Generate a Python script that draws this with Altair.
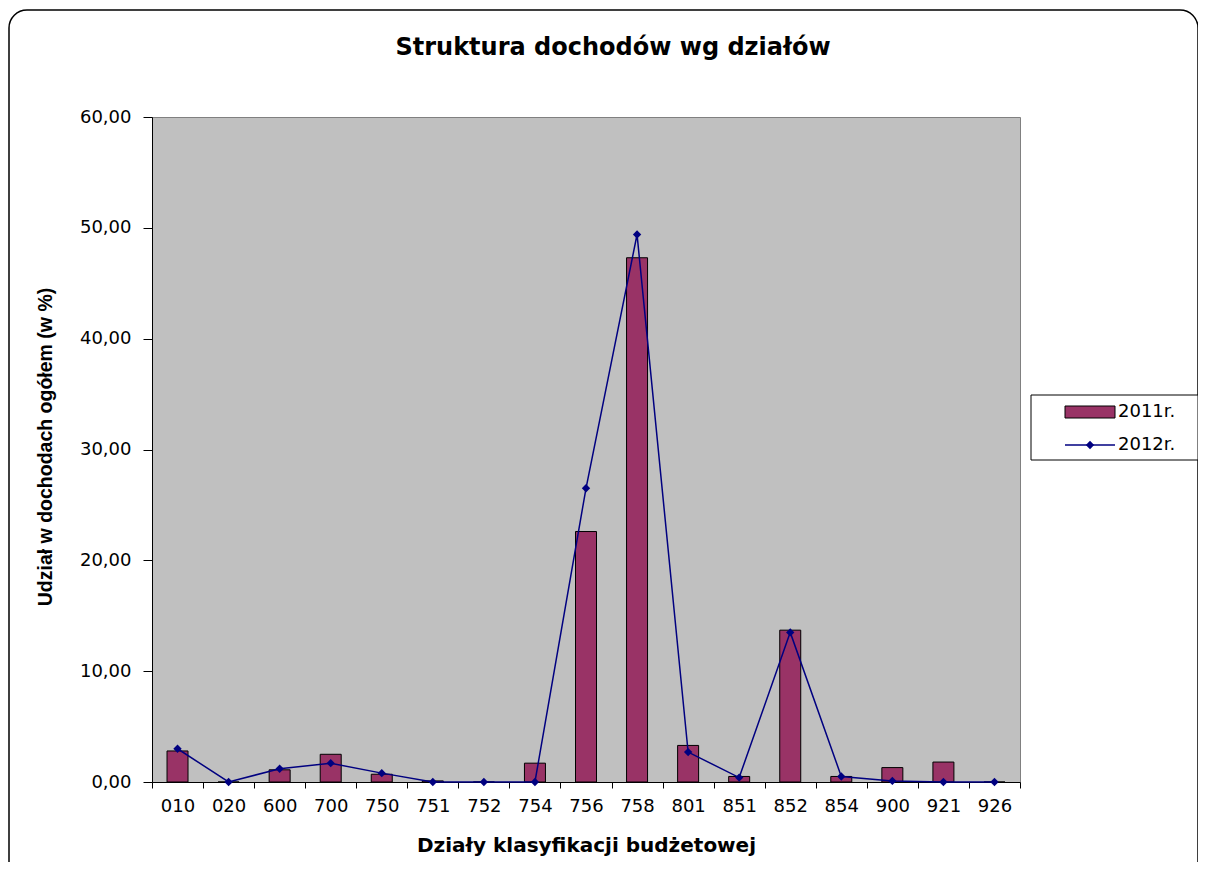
import altair as alt
import pandas as pd

categories = ["010", "020", "600", "700", "750", "751", "752", "754", "756",
              "758", "801", "851", "852", "854", "900", "921", "926"]
v2011 = [2.8, 0.0, 1.1, 2.5, 0.7, 0.1, 0.0, 1.7, 22.6, 47.3, 3.3, 0.5, 13.7,
         0.5, 1.3, 1.8, 0.0]
v2012 = [3.0, 0.0, 1.2, 1.7, 0.8, 0.0, 0.0, 0.0, 26.5, 49.4, 2.7, 0.4, 13.5,
         0.5, 0.1, 0.0, 0.0]
series = ["2011r.", "2012r."]
title_text = "Struktura dochodów wg działów"
x_title = "Działy klasyfikacji budżetowej"
y_title = "Udział w dochodach ogółem (w %)"

BAR_COLOR = "#993366"
LINE_COLOR = "#000080"
W, H = 868, 665

df = pd.DataFrame({"dzial": categories, "v2011": v2011, "v2012": v2012})

x_scale = alt.Scale(paddingInner=0, paddingOuter=0)
y_scale = alt.Scale(domain=[0, 60], nice=False)

x_axis = alt.Axis(
    title=x_title, labelAngle=0, tickBand="extent", tickSize=6,
    labelPadding=9, labelFont="DejaVu Sans", labelFontSize=18,
    labelColor="black", domainColor="black", tickColor="black",
    titleFont="DejaVu Sans", titleFontSize=20, titleFontWeight="bold",
    titleColor="black", titleY=63, titleBaseline="middle",
)
y_axis = alt.Axis(
    title=y_title, values=[0, 10, 20, 30, 40, 50, 60],
    labelExpr="replace(format(datum.value, '.2f'), '.', ',')",
    grid=False, tickSize=9, labelPadding=12, labelFont="DejaVu Sans",
    labelFontSize=18, labelColor="black", domainColor="black",
    tickColor="black", titleFont="Liberation Sans",
    titleFontSize=19.5, titleFontWeight="bold", titleColor="black",
    titleAngle=270, titleX=-107, titleY=H / 2 - 3, titleAlign="center",
    titleBaseline="middle",
)

bars = alt.Chart(df).mark_bar(
    size=21, color=BAR_COLOR, stroke="black", strokeWidth=1
).encode(
    x=alt.X("dzial:N", sort=categories, scale=x_scale, axis=x_axis),
    y=alt.Y("v2011:Q", scale=y_scale, axis=y_axis),
)

line = alt.Chart(df).mark_line(
    color=LINE_COLOR, strokeWidth=1.5,
    point=alt.OverlayMarkDef(shape="diamond", filled=True, color=LINE_COLOR, size=70),
).encode(
    x=alt.X("dzial:N", sort=categories, scale=x_scale, axis=x_axis),
    y=alt.Y("v2012:Q", scale=y_scale, axis=y_axis),
)

one = pd.DataFrame({"k": [0]})

border = alt.Chart(one).mark_rect(
    fillOpacity=0, stroke="black", strokeWidth=1.5, cornerRadius=18
).encode(x=alt.value(-143), x2=alt.value(1046), y=alt.value(-107), y2=alt.value(762))

title = alt.Chart(one).mark_text(
    text=title_text, font="DejaVu Sans", fontSize=24, fontWeight="bold",
    color="black", align="center", baseline="middle"
).encode(x=alt.value(461), y=alt.value(-69))

leg_box = alt.Chart(one).mark_rect(
    fill="white", stroke="black", strokeWidth=1
).encode(x=alt.value(879), x2=alt.value(1046), y=alt.value(278), y2=alt.value(343))

leg_swatch = alt.Chart(one).mark_rect(
    fill=BAR_COLOR, stroke="black", strokeWidth=1
).encode(x=alt.value(913), x2=alt.value(963), y=alt.value(289), y2=alt.value(301))

leg_line = alt.Chart(one).mark_rule(
    color=LINE_COLOR, strokeWidth=1.5
).encode(x=alt.value(913), x2=alt.value(963), y=alt.value(328))

leg_point = alt.Chart(one).mark_point(
    shape="diamond", filled=True, color=LINE_COLOR, size=70, opacity=1
).encode(x=alt.value(938), y=alt.value(328))

leg_t1 = alt.Chart(one).mark_text(
    text=series[0], font="DejaVu Sans", fontSize=18, color="black",
    align="left", baseline="middle"
).encode(x=alt.value(966), y=alt.value(295))

leg_t2 = alt.Chart(one).mark_text(
    text=series[1], font="DejaVu Sans", fontSize=18, color="black",
    align="left", baseline="middle"
).encode(x=alt.value(966), y=alt.value(328))

chart = alt.layer(
    border, bars, line, title, leg_box, leg_swatch, leg_line, leg_point,
    leg_t1, leg_t2
).properties(
    width=W, height=H,
    autosize=alt.AutoSizeParams(type="none"),
    padding={"left": 144, "top": 109, "right": 178, "bottom": 80},
    background="white",
).configure_view(
    fill="#C0C0C0", stroke="#808080", strokeWidth=1
)

chart.save("out.html", embed_options={"renderer": "svg", "actions": False})
